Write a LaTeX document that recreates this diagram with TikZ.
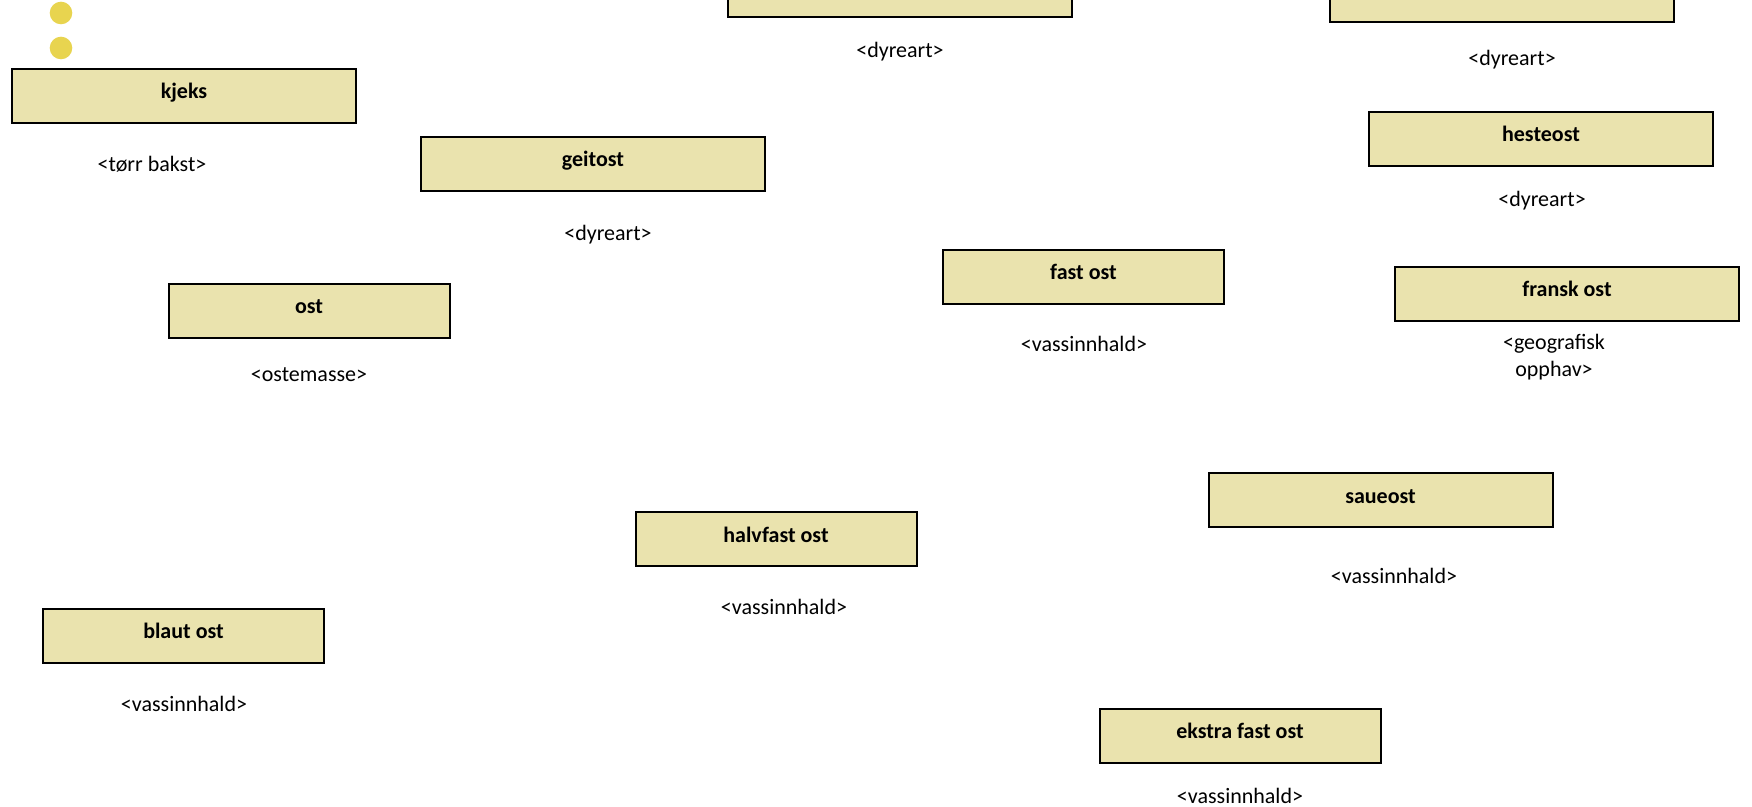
\documentclass[tikz,border=0pt]{standalone}
\usepackage{xcolor}
\usepackage{fontspec}
\setmainfont{Carlito}
\usepackage{tikz}
\definecolor{boxfill}{HTML}{EAE3AE}
\definecolor{dotfill}{HTML}{E8D44F}

\begin{document}
\begin{tikzpicture}[x=0.5pt,y=-0.5pt]
                    \tikzstyle{every node}+=[inner sep=0pt,font=\fontsize{11pt}{13.4pt}\selectfont]
                    \tikzstyle{widebox}=[draw=black,line width=1pt,fill=boxfill,minimum width=172pt,minimum height=27pt,text height=1ex,text depth=0.4ex,font=\fontsize{11pt}{13.4pt}\selectfont\bfseries]
                    \tikzstyle{narrowbox}=[widebox,minimum width=140.5pt]
                    \tikzstyle{yellowdot}=[circle,fill=dotfill,minimum size=11.3pt]
                    \useasboundingbox (0,0) rectangle (1752,807);
                    \node [yellowdot] (dot1) at (61,13) {};
                    \node [yellowdot] (dot2) at (61,48) {};
                    \node [widebox] (topmid) at (900,-10) {};
                    \node (topmidnote) at (900,51.5) {<dyreart>};
                    \node [widebox] (topright) at (1502,-4.5) {};
                    \node (toprightnote) at (1512,59.5) {<dyreart>};
                    \node [widebox] (kjeks) at (184,96) {kjeks};
                    \node (kjeksnote) at (152,164) {<tørr bakst>};
                    \node [widebox] (geitost) at (593,164) {geitost};
                    \node (geitostnote) at (608,234.5) {<dyreart>};
                    \node [widebox] (hesteost) at (1541,139) {hesteost};
                    \node (hesteostnote) at (1542,200.5) {<dyreart>};
                    \node [narrowbox] (fastost) at (1083.5,277) {fast ost};
                    \node (fastostnote) at (1084,344) {<vassinnhald>};
                    \node [widebox] (franskost) at (1567,294) {fransk ost};
                    \node [align=center] (franskostnote) at (1554,357.5) {<geografisk\\opphav>};
                    \node [narrowbox] (ost) at (309,311) {ost};
                    \node (ostnote) at (309,375) {<ostemasse>};
                    \node [widebox] (saueost) at (1380.5,500.5) {saueost};
                    \node (saueostnote) at (1394,576) {<vassinnhald>};
                    \node [narrowbox] (halvfastost) at (776,539.5) {halvfast ost};
                    \node (halvfastostnote) at (784,607) {<vassinnhald>};
                    \node [narrowbox] (blautost) at (183.5,636) {blaut ost};
                    \node (blautostnote) at (184,704) {<vassinnhald>};
                    \node [narrowbox] (ekstrafastost) at (1240,736) {ekstra fast ost};
                    \node (ekstrafastostnote) at (1240,796) {<vassinnhald>};
                \end{tikzpicture}
\end{document}
